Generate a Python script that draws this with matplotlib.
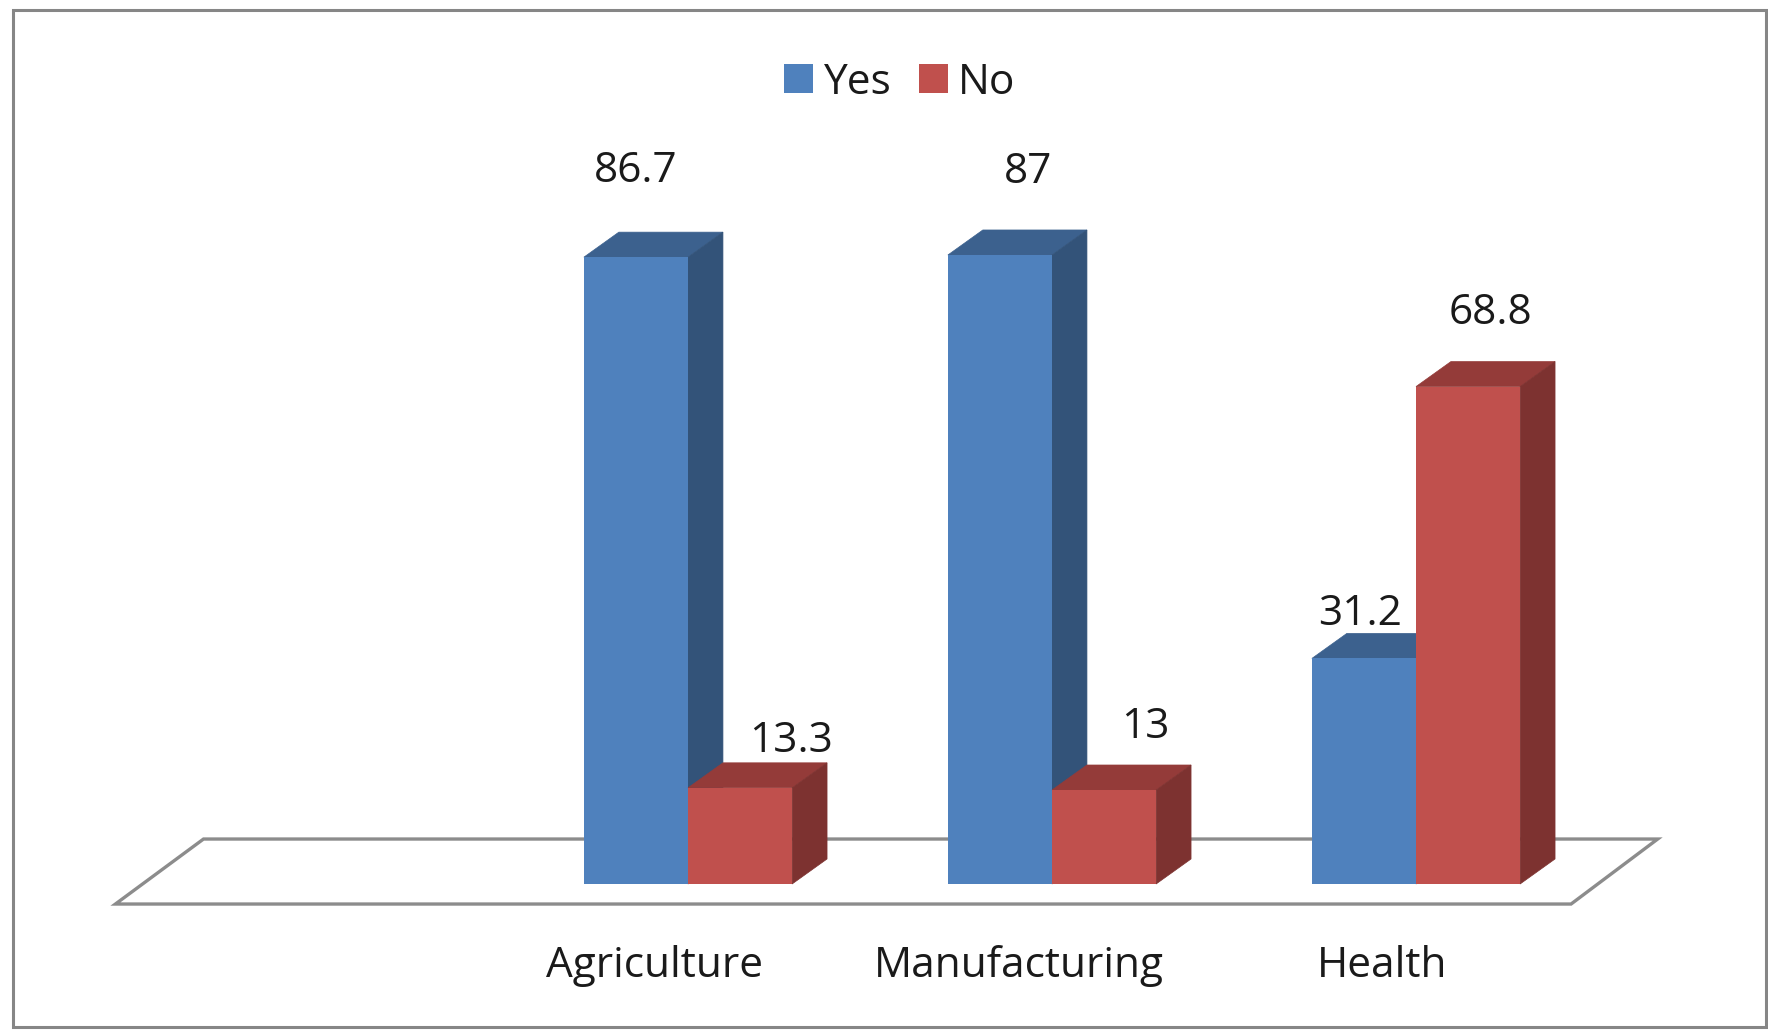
import numpy as np
import matplotlib
matplotlib.use('Agg')
import matplotlib.pyplot as plt
from matplotlib.patches import Rectangle

# Datos
categorias = ['Agriculture', 'Manufacturing', 'Health']
yes_vals = [86.7, 87, 31.2]
no_vals = [13.3, 13, 68.8]
yes_labels = ['86.7', '87', '31.2']
no_labels = ['13.3', '13', '68.8']

# Estilo
azul, azul_top, azul_lado = '#4F81BD', '#3C618E', '#335379'
rojo, rojo_top, rojo_lado = '#C0504D', '#943B39', '#7D3230'
gris = '#8C8C8C'
fuente = 'Open Sans'
tam = 30.5
ancho = 0.286
prof_x, prof_y = 0.096, 3.46
# desplazamiento manual de cada etiqueta (puntos)
yes_offset = [(0, 62), (20.5, 60), (-3, 32)]
no_offset = [(37, 33.5), (30, 45.5), (16, 53)]

plt.rcParams['font.family'] = fuente
fig = plt.figure(figsize=(17.68, 10.30), dpi=100)
ax = fig.add_axes([0, 126 / 1030, 1, 904 / 1030])
ax.set_xlim(-688 / 364, 1080 / 364)
ax.set_ylim(-20 / 7.23, 884 / 7.23)

# Marco exterior
fig.add_artist(Rectangle((13 / 1768, 3 / 1030), 1753 / 1768, 1017 / 1030, transform=fig.transFigure,
                         fill=False, edgecolor='#868686', linewidth=2.2))

# Suelo
suelo_x = [-1.573, 2.426, 2.664, -1.331, -1.573]
suelo_y = [-2.77, -2.77, 6.22, 6.22, -2.77]
ax.fill(suelo_x, suelo_y, facecolor='white', edgecolor=gris, linewidth=2.4, clip_on=False, zorder=1)

x = np.arange(len(categorias))


def barra3d(x0, valor, frente, top, lado, z):
    ax.fill([x0, x0 + ancho, x0 + ancho + prof_x, x0 + prof_x],
            [valor, valor, valor + prof_y, valor + prof_y], facecolor=top, edgecolor=top, lw=0.5, zorder=z)
    ax.fill([x0 + ancho, x0 + ancho + prof_x, x0 + ancho + prof_x, x0 + ancho],
            [0, prof_y, valor + prof_y, valor], facecolor=lado, edgecolor=lado, lw=0.5, zorder=z)


for i in x:
    barra3d(i - ancho, yes_vals[i], azul, azul_top, azul_lado, 2)
    barra3d(i, no_vals[i], rojo, rojo_top, rojo_lado, 4)

b1 = ax.bar(x - ancho / 2, yes_vals, ancho, color=azul, label='Yes', zorder=3)
b2 = ax.bar(x + ancho / 2, no_vals, ancho, color=rojo, label='No', zorder=5)

# Etiquetas de valores
for barras, textos, offs in [(b1, yes_labels, yes_offset), (b2, no_labels, no_offset)]:
    for b, t, o in zip(barras, textos, offs):
        ax.annotate(t, (b.get_x() + b.get_width() / 2, b.get_height()), xytext=o,
                    textcoords='offset points', ha='center', va='center',
                    fontsize=tam, color='#1a1a1a', zorder=6)

# Ejes
ax.set_xticks(x - 0.092, categorias)
ax.tick_params(axis='x', length=0, pad=29.5, labelsize=tam, labelcolor='#1a1a1a')
ax.set_yticks([])
for s in ax.spines.values():
    s.set_visible(False)

ax.legend(handles=[b1, b2], loc='center', bbox_to_anchor=(900 / 1768, 0.9085), ncol=2, frameon=False,
          fontsize=tam, labelcolor='#1a1a1a', handlelength=0.68, handleheight=0.68, handletextpad=0.25,
          columnspacing=0.65, borderpad=0, borderaxespad=0)

fig.savefig('out.png', dpi=100, facecolor='white')
